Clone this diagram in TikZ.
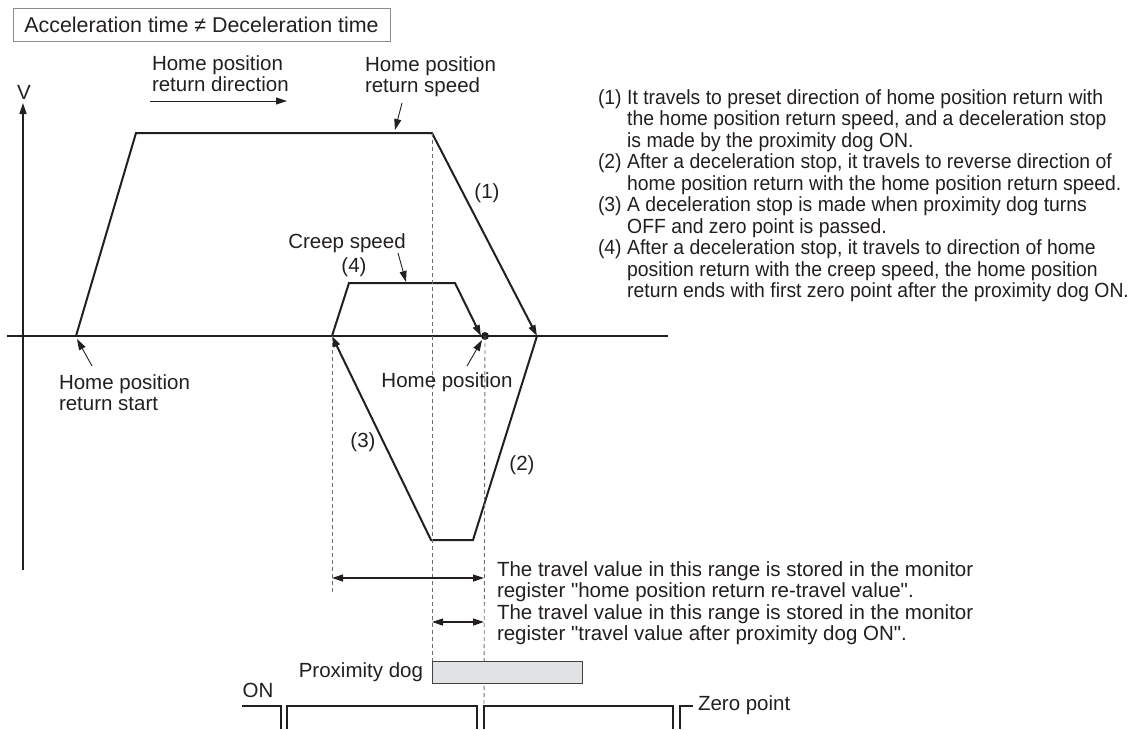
\documentclass[tikz,border=0pt]{standalone}
\usepackage{fontspec}
\setmainfont{Liberation Sans}[Ligatures=TeXOff]
\newfontfamily\notesfont{Liberation Sans}[Ligatures=TeXOff, FakeStretch=0.945]
\usetikzlibrary{arrows.meta}
\definecolor{ink}{HTML}{231F20}
\definecolor{dashgray}{HTML}{6D6E71}
\definecolor{framegray}{HTML}{8A8B8E}
\definecolor{dogfill}{HTML}{E1E2E4}
\newcommand{\stack}[1]{\begin{tabular}{@{}l@{}}#1\end{tabular}}

\begin{document}
\begin{tikzpicture}[x=1pt,y=-1pt,
  >={Triangle[length=11pt,width=7pt]},
  every node/.style={inner sep=0pt, outer sep=0pt, text=ink,
    font=\fontsize{20.5}{21.5}\selectfont},
  profile/.style={draw=ink, line width=2pt, line join=miter},
  axis/.style={draw=ink, line width=1.5pt},
  leader/.style={draw=ink, line width=0.9pt, ->},
  guide/.style={draw=dashgray, line width=0.9pt, dash pattern=on 4pt off 3pt},
  dim/.style={draw=ink, line width=1.2pt, <->},
  pulse/.style={draw=ink, line width=1.4pt},
]
\useasboundingbox (0,0) rectangle (1140,729);

% heading
\node[draw=framegray, line width=1pt, minimum width=377pt, minimum height=33pt,
  font=\fontsize{21.4}{22}\selectfont]
  (title) at (201.5,24.5) {Acceleration time ≠ Deceleration time};

% axes
\node (vlab) at (24,92) {V};
\coordinate (vbot) at (23,570);
\coordinate (vtop) at (23,103);
\draw[axis,->] (vbot) -- (vtop);
\coordinate (hl) at (7,336);
\coordinate (hr) at (668,336);
\draw[axis] (hl) -- (hr);

% speed profile
\coordinate (p0) at (76,336);
\coordinate (p1) at (136,133);
\coordinate (p2) at (432,133);
\coordinate (p3) at (537,336);
\coordinate (p4) at (473,540);
\coordinate (p5) at (431,540);
\coordinate (p6) at (332,336);
\coordinate (p7) at (349,283);
\coordinate (p8) at (455,283);
\coordinate (p9) at (481,336);
\draw[profile,->] (p0) -- (p1) -- (p2) -- (p3);
\draw[profile,->] (p3) -- (p4) -- (p5) -- (p6);
\draw[profile,->] (p6) -- (p7) -- (p8) -- (p9);
\node[circle, fill=ink, minimum size=8pt] (home) at (485,336) {};

% guide lines
\coordinate (g1) at (332,592);
\coordinate (g3) at (484,715);
\draw[guide] (p6) -- (g1);
\draw[guide] (p2) -- (432,661);
\draw[guide] (home.center) -- (g3);

% segment labels
\node (l1) at (487,193) {(1)};
\node (l2) at (522,465) {(2)};
\node (l3) at (363,442) {(3)};
\node (l4) at (354,267) {(4)};

% callouts
\node[anchor=north west] (dirlab) at (152,55) {\stack{Home position\\return direction}};
\coordinate (dirA) at (150,101);
\coordinate (dirB) at (287,101);
\draw[leader] (dirA) -- (dirB);

\node[anchor=north west] (spdlab) at (365,56) {\stack{Home position\\return speed}};
\coordinate (spdA) at (402,103);
\coordinate (spdB) at (395,130);
\draw[leader] (spdA) -- (spdB);

\node (creep) at (347,243) {Creep speed};
\coordinate (creepA) at (398,253);
\coordinate (creepB) at (406,282);
\draw[leader] (creepA) -- (creepB);

\node (homelab) at (447,382) {Home position};
\coordinate (homeA) at (467,366);
\coordinate (homeB) at (482,340);
\draw[leader] (homeA) -- (homeB);

\node[anchor=north west] (startlab) at (59,374) {\stack{Home position\\return start}};
\coordinate (startA) at (92,366);
\coordinate (startB) at (77,339);
\draw[leader] (startA) -- (startB);

% explanation of the steps
\node[anchor=north west, font=\notesfont\fontsize{20.5}{21.5}\selectfont] (notes) at (598,89) {%
  \begin{tabular}{@{}l@{\hspace{5.5pt}}l@{}}
  (1) & It travels to preset direction of home position return with\\
      & the home position return speed, and a deceleration stop\\
      & is made by the proximity dog ON.\\
  (2) & After a deceleration stop, it travels to reverse direction of\\
      & home position return with the home position return speed.\\
  (3) & A deceleration stop is made when proximity dog turns\\
      & OFF and zero point is passed.\\
  (4) & After a deceleration stop, it travels to direction of home\\
      & position return with the creep speed, the home position\\
      & return ends with first zero point after the proximity dog ON.
  \end{tabular}};

% travel ranges
\coordinate (d1a) at (332,578);
\coordinate (d1b) at (484,578);
\draw[dim] (d1a) -- (d1b);
\coordinate (d2a) at (432,622);
\coordinate (d2b) at (484,622);
\draw[dim] (d2a) -- (d2b);
\node[anchor=north west] (range1) at (497,561) {\stack{The travel value in this range is stored in the monitor\\register "home position return re-travel value".}};
\node[anchor=north west] (range2) at (497,604) {\stack{The travel value in this range is stored in the monitor\\register "travel value after proximity dog ON".}};

% proximity dog
\node[draw=ink!85, fill=dogfill, line width=1pt, minimum width=150pt,
  minimum height=22pt, anchor=north west] (dog) at (432,661) {};
\node[anchor=east] (doglab) at (423,672) {Proximity dog};

% zero point signal
\node (onlab) at (258,690) {ON};
\draw[pulse] (242,706) -- (281,706) -- (281,729);
\draw[pulse] (287,729) -- (287,706) -- (477,706) -- (477,729);
\draw[pulse] (484,729) -- (484,706) -- (673,706) -- (673,729);
\draw[pulse] (680,729) -- (680,706) -- (693,706);
\node[anchor=west] (zerolab) at (698,705) {Zero point};
\end{tikzpicture}
\end{document}
